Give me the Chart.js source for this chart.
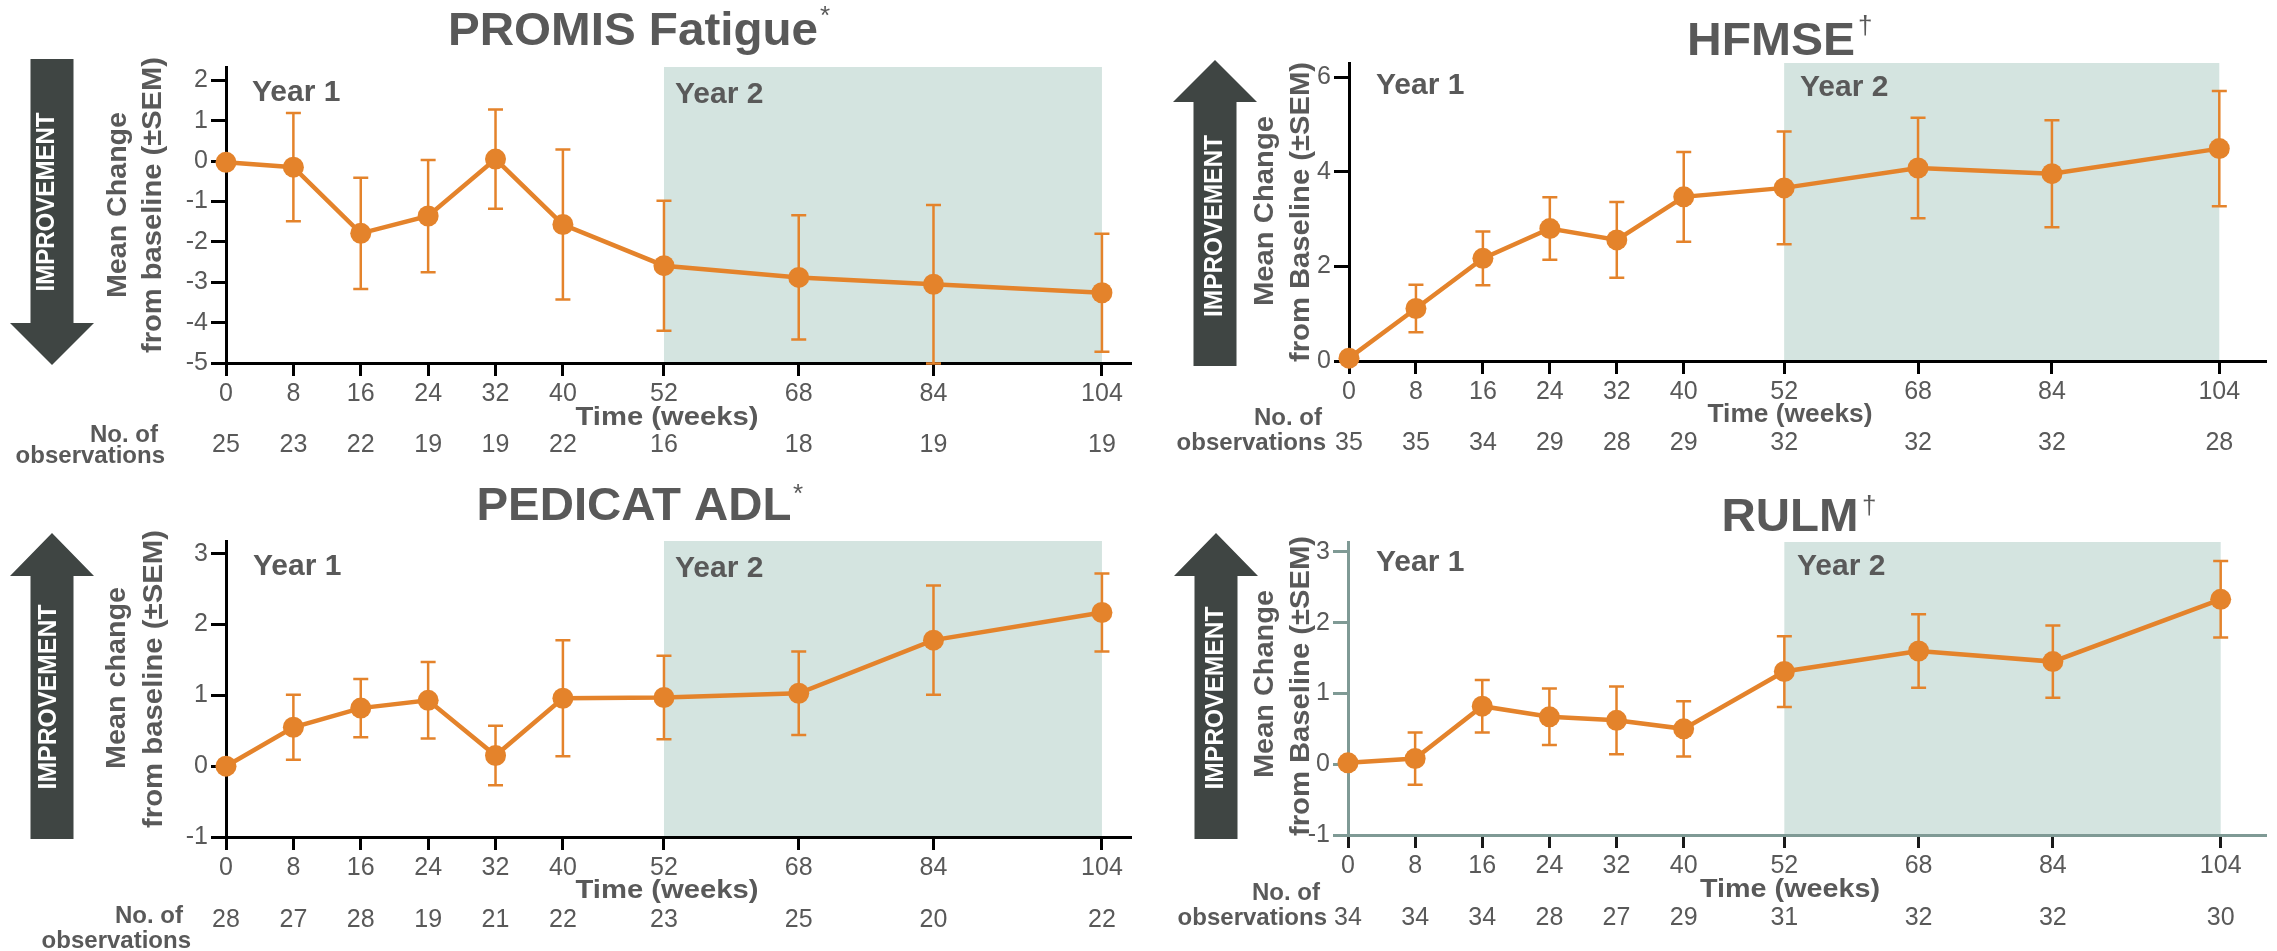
<!DOCTYPE html>
<html>
<head>
<meta charset="utf-8">
<script src="https://cdn.jsdelivr.net/npm/chart.js@4"></script>
<style>
  body { margin: 0; background: #fff; }
  #page { position: relative; width: 2277px; height: 951px; overflow: hidden; }
  #page canvas { position: absolute; left: 0; top: 0; }
</style>
</head>
<body>
<div id="page"></div>
<script>
// data
const weeks = [0, 8, 16, 24, 32, 40, 52, 68, 84, 104];
const yearTwo = [52, 104];

const fatigueMean = [-0.03, -0.15, -1.79, -1.36, 0.05, -1.57, -2.59, -2.88, -3.05, -3.26];
const fatigueSem = [0, 1.34, 1.38, 1.39, 1.23, 1.86, 1.61, 1.54, 1.96, 1.46];
const fatigueN = [25, 23, 22, 19, 19, 22, 16, 18, 19, 19];
const fatigueTicks = [-5, -4, -3, -2, -1, 0, 1, 2];

const hfmseMean = [0.06, 1.11, 2.17, 2.80, 2.56, 3.47, 3.66, 4.08, 3.96, 4.49];
const hfmseSem = [0, 0.5, 0.57, 0.66, 0.8, 0.95, 1.19, 1.06, 1.13, 1.22];
const hfmseN = [35, 35, 34, 29, 28, 29, 32, 32, 32, 28];
const hfmseTicks = [0, 2, 4, 6];

const pedicatMean = [0.0, 0.55, 0.82, 0.93, 0.15, 0.96, 0.97, 1.03, 1.78, 2.17];
const pedicatSem = [0, 0.46, 0.41, 0.54, 0.42, 0.82, 0.59, 0.59, 0.77, 0.55];
const pedicatN = [28, 27, 28, 19, 21, 22, 23, 25, 20, 22];
const pedicatTicks = [-1, 0, 1, 2, 3];

const rulmMean = [0.02, 0.08, 0.82, 0.67, 0.62, 0.50, 1.31, 1.60, 1.45, 2.33];
const rulmSem = [0, 0.37, 0.37, 0.40, 0.48, 0.39, 0.50, 0.52, 0.51, 0.54];
const rulmN = [34, 34, 34, 28, 27, 29, 31, 32, 32, 30];
const rulmTicks = [-1, 0, 1, 2, 3];

const FONT = '"Liberation Sans", Arial, Helvetica, sans-serif';
const TEXT = '#595959';
const ORANGE = '#e4832b';
const SHADE = '#d4e4e0';
const ARROW = '#3f4543';

// stretch a line of text to a given length (optionally rotated)
function drawText(ctx, text, x, y, len, font, rotate, align) {
  ctx.save();
  ctx.font = font;
  const w = ctx.measureText(text).width;
  ctx.translate(x, y);
  if (rotate) ctx.rotate(-Math.PI / 2);
  if (len) ctx.scale(len / w, 1);
  ctx.textAlign = align || 'center';
  ctx.fillText(text, 0, 0);
  ctx.restore();
}

function drawArrow(ctx, a) {
  const hw = 42, sw = 21.5;
  ctx.save();
  ctx.fillStyle = ARROW;
  ctx.beginPath();
  ctx.moveTo(a.cx, a.tip);
  ctx.lineTo(a.cx + hw, a.base);
  ctx.lineTo(a.cx + sw, a.base);
  ctx.lineTo(a.cx + sw, a.tail);
  ctx.lineTo(a.cx - sw, a.tail);
  ctx.lineTo(a.cx - sw, a.base);
  ctx.lineTo(a.cx - hw, a.base);
  ctx.closePath();
  ctx.fill();
  ctx.restore();
}

function makePanel(p) {
  const canvas = document.createElement('canvas');
  canvas.width = 2277;
  canvas.height = 951;
  document.getElementById('page').appendChild(canvas);
  const a = p.area;
  const yW = 60, xH = 40;

  const decor = {
    id: 'decor',
    beforeDraw(chart) {
      const { ctx, chartArea } = chart;
      const x = chart.scales.x;
      const x0 = x.getPixelForValue(yearTwo[0]);
      const x1 = x.getPixelForValue(yearTwo[1]);
      ctx.save();
      ctx.fillStyle = SHADE;
      ctx.fillRect(x0, chartArea.top, x1 - x0, chartArea.bottom - chartArea.top);
      ctx.fillStyle = TEXT;
      ctx.textBaseline = 'alphabetic';
      ctx.font = 'bold 30px ' + FONT;
      ctx.textAlign = 'left';
      ctx.fillText('Year 1', p.year1.x, p.year1.y);
      ctx.fillText('Year 2', p.year2.x, p.year2.y);
      ctx.restore();
    },
    beforeDatasetsDraw(chart) {
      const { ctx } = chart;
      const x = chart.scales.x, y = chart.scales.y;
      ctx.save();
      ctx.strokeStyle = ORANGE;
      ctx.lineWidth = 2.5;
      p.mean.forEach((m, i) => {
        if (!p.sem[i]) return;
        const px = x.getPixelForValue(weeks[i]);
        const yt = y.getPixelForValue(m + p.sem[i]);
        const yb = y.getPixelForValue(m - p.sem[i]);
        ctx.beginPath();
        ctx.moveTo(px, yt); ctx.lineTo(px, yb);
        ctx.moveTo(px - 7.5, yt); ctx.lineTo(px + 7.5, yt);
        ctx.moveTo(px - 7.5, yb); ctx.lineTo(px + 7.5, yb);
        ctx.stroke();
      });
      ctx.restore();
    },
    afterDraw(chart) {
      const { ctx } = chart;
      const x = chart.scales.x;
      ctx.save();
      // title
      ctx.fillStyle = TEXT;
      ctx.textBaseline = 'alphabetic';
      drawText(ctx, p.title, p.titleX, p.titleY, p.titleW, 'bold 46px ' + FONT);
      ctx.font = '26px ' + FONT;
      ctx.textAlign = 'left';
      ctx.fillText(p.mark, p.markX, p.markY);

      // improvement arrow
      drawArrow(ctx, p.arrow);
      ctx.fillStyle = '#ffffff';
      ctx.textBaseline = 'middle';
      drawText(ctx, 'IMPROVEMENT', p.arrowText.x, p.arrowText.y, p.arrowText.len, 'bold 25px ' + FONT, true);

      // y axis title
      ctx.fillStyle = TEXT;
      p.yTitle.forEach(t => drawText(ctx, t.text, t.x, t.y, t.len, 'bold 27px ' + FONT, true));

      // x axis title
      ctx.textBaseline = 'alphabetic';
      drawText(ctx, 'Time (weeks)', p.time.x, p.time.y, p.time.w, 'bold 25px ' + FONT);

      // observation counts
      ctx.font = 'bold 24px ' + FONT;
      ctx.textAlign = 'right';
      p.obs.forEach(o => ctx.fillText(o.text, o.x, o.y));
      ctx.font = '25px ' + FONT;
      ctx.textAlign = 'center';
      p.n.forEach((n, i) => ctx.fillText(String(n), x.getPixelForValue(weeks[i]), p.countY));
      ctx.restore();
    }
  };

  new Chart(canvas, {
    type: 'line',
    data: {
      datasets: [{
        data: weeks.map((w, i) => ({ x: w, y: p.mean[i] })),
        borderColor: ORANGE,
        backgroundColor: ORANGE,
        borderWidth: 4.5,
        pointRadius: 10.5,
        pointBorderWidth: 0,
        pointBackgroundColor: ORANGE,
        tension: 0,
        clip: false
      }]
    },
    options: {
      responsive: false,
      animation: false,
      events: [],
      layout: {
        padding: { left: a.left - yW, right: 2277 - a.right, top: a.top, bottom: 951 - a.bottom - xH }
      },
      plugins: { legend: { display: false }, tooltip: { enabled: false }, title: { display: false } },
      scales: {
        x: {
          type: 'linear', bounds: 'data', min: 0, max: p.xMax,
          afterBuildTicks: s => { s.ticks = weeks.map(v => ({ value: v })); },
          afterFit: s => { s.height = xH; },
          border: { color: p.axisColor, width: 3 },
          grid: { drawOnChartArea: false, tickLength: 13, tickWidth: 3, tickColor: p.xTickColor },
          ticks: { autoSkip: false, maxRotation: 0, padding: 3, color: TEXT,
                   font: { family: FONT, size: 25 }, callback: v => String(v) }
        },
        y: {
          type: 'linear', bounds: 'data', min: p.yMin, max: p.yMax,
          afterBuildTicks: s => { s.ticks = p.yTicks.map(v => ({ value: v })); },
          afterFit: s => { s.width = yW; },
          border: { color: p.axisColor, width: 3 },
          grid: { drawOnChartArea: false, tickLength: 15, tickWidth: 3, tickColor: p.axisColor },
          ticks: { padding: 3, color: TEXT, font: { family: FONT, size: 25 }, callback: v => String(v) }
        }
      }
    },
    plugins: [decor]
  });
}

makePanel({
  mean: fatigueMean, sem: fatigueSem, n: fatigueN, yTicks: fatigueTicks,
  area: { left: 226, right: 1131, top: 67, bottom: 363 }, xMax: 107.45, yMin: -5, yMax: 2.33,
  axisColor: '#000000', xTickColor: '#000000',
  title: 'PROMIS Fatigue', titleX: 633, titleY: 45, titleW: 370, mark: '*', markX: 820, markY: 24,
  arrow: { cx: 52, tip: 365, base: 323, tail: 59 },
  arrowText: { x: 47.5, y: 202, len: 179 },
  yTitle: [{ text: 'Mean Change', x: 119, y: 205, len: 186 }, { text: 'from baseline (±SEM)', x: 154, y: 205, len: 296 }],
  time: { x: 667, y: 425, w: 183 },
  obs: [{ text: 'No. of', x: 158, y: 442 }, { text: 'observations', x: 165, y: 463 }], countY: 452,
  year1: { x: 252, y: 101 }, year2: { x: 675, y: 103 }
});

makePanel({
  mean: hfmseMean, sem: hfmseSem, n: hfmseN, yTicks: hfmseTicks,
  area: { left: 1349, right: 2272, top: 63, bottom: 361 }, xMax: 109.64, yMin: 0, yMax: 6.3,
  axisColor: '#000000', xTickColor: '#000000',
  title: 'HFMSE', titleX: 1771, titleY: 55, titleW: 168, mark: '†', markX: 1858, markY: 34,
  arrow: { cx: 1215, tip: 60, base: 102, tail: 366 },
  arrowText: { x: 1215, y: 226, len: 182 },
  yTitle: [{ text: 'Mean Change', x: 1266, y: 211, len: 190 }, { text: 'from Baseline (±SEM)', x: 1302, y: 212, len: 300 }],
  time: { x: 1790, y: 422, w: 165 },
  obs: [{ text: 'No. of', x: 1322, y: 425 }, { text: 'observations', x: 1326, y: 450 }], countY: 450,
  year1: { x: 1376, y: 94 }, year2: { x: 1800, y: 96 }
});

makePanel({
  mean: pedicatMean, sem: pedicatSem, n: pedicatN, yTicks: pedicatTicks,
  area: { left: 226, right: 1131, top: 541, bottom: 837 }, xMax: 107.45, yMin: -1, yMax: 3.18,
  axisColor: '#000000', xTickColor: '#000000',
  title: 'PEDICAT ADL', titleX: 634, titleY: 520, titleW: 315, mark: '*', markX: 793, markY: 502,
  arrow: { cx: 52, tip: 533, base: 576, tail: 839 },
  arrowText: { x: 49.5, y: 697, len: 185 },
  yTitle: [{ text: 'Mean change', x: 118, y: 678, len: 182 }, { text: 'from baseline (±SEM)', x: 155, y: 679, len: 298 }],
  time: { x: 667, y: 898, w: 183 },
  obs: [{ text: 'No. of', x: 183, y: 923 }, { text: 'observations', x: 191, y: 948 }], countY: 927,
  year1: { x: 253, y: 575 }, year2: { x: 675, y: 577 }
});

makePanel({
  mean: rulmMean, sem: rulmSem, n: rulmN, yTicks: rulmTicks,
  area: { left: 1348, right: 2270, top: 542, bottom: 835 }, xMax: 109.46, yMin: -1, yMax: 3.14,
  axisColor: '#7f9a95', xTickColor: '#1a1a1a',
  title: 'RULM', titleX: 1790, titleY: 531, titleW: 137, mark: '†', markX: 1862, markY: 514,
  arrow: { cx: 1216, tip: 533, base: 576, tail: 839 },
  arrowText: { x: 1216.5, y: 698, len: 183 },
  yTitle: [{ text: 'Mean Change', x: 1266, y: 684, len: 188 }, { text: 'from Baseline (±SEM)', x: 1302, y: 686, len: 300 }],
  time: { x: 1790, y: 897, w: 180 },
  obs: [{ text: 'No. of', x: 1320, y: 900 }, { text: 'observations', x: 1327, y: 925 }], countY: 925,
  year1: { x: 1376, y: 571 }, year2: { x: 1797, y: 575 }
});
</script>
</body>
</html>
